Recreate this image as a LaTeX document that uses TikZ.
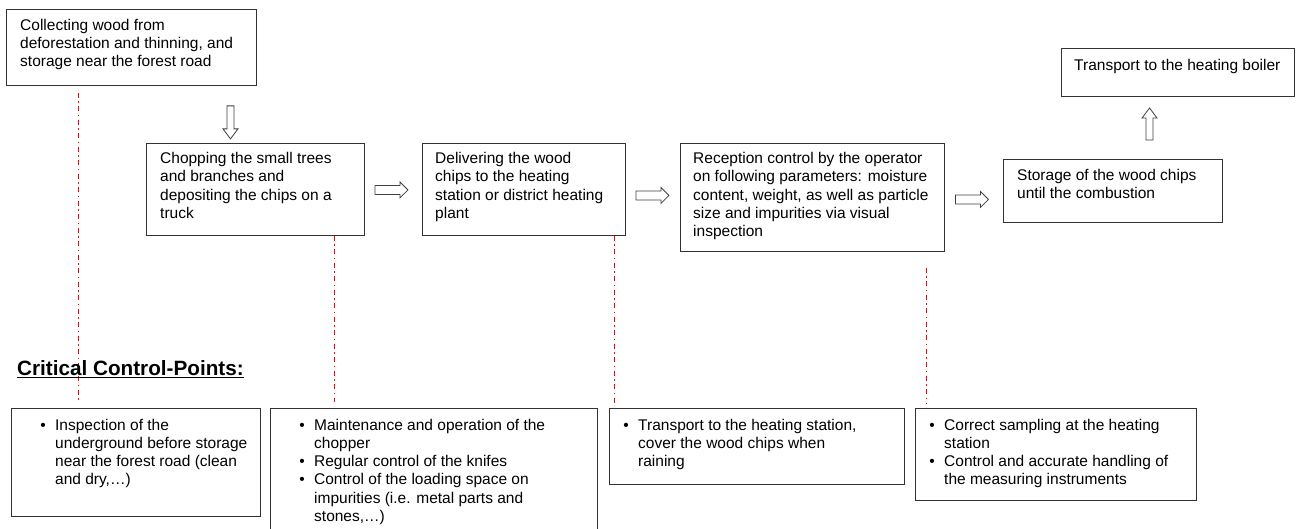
\documentclass[tikz,border=0pt]{standalone}
\usepackage{fontspec}
\setmainfont{Liberation Sans}
\usetikzlibrary{calc}
\definecolor{ccred}{RGB}{255,0,0}
\begin{document}
\begin{tikzpicture}[x=1pt,y=-1pt,
  box/.style={draw=black!80, line width=0.9pt, inner sep=0pt, anchor=north west},
  txt/.style={anchor=north west, inner sep=0pt, align=left, font=\fontsize{15.5}{18.2}\selectfont},
  blockarrow/.style={draw=black!75, line width=0.8pt, fill=white, line join=miter},
  ctrl/.style={color=ccred, line width=0.9pt, dash pattern=on 5pt off 3.5pt on 1.5pt off 3.5pt}]
\clip (0,0) rectangle (1296,529);
\fill[white] (0,0) rectangle (1296,529);
\newcommand{\bul}{\llap{\textbullet\hspace{9.5pt}}}
\newcommand{\st}{\rule{0pt}{12pt}}
% process boxes
\node[box, minimum width=250pt, minimum height=76pt] (A) at (6,9) {};
\node[box, minimum width=218pt, minimum height=92pt] (B) at (146,143) {};
\node[box, minimum width=203pt, minimum height=92pt] (C) at (422,143) {};
\node[box, minimum width=264pt, minimum height=108pt] (D) at (680,143) {};
\node[box, minimum width=219pt, minimum height=63pt] (E) at (1003,159) {};
\node[box, minimum width=233pt, minimum height=48pt] (F) at (1061,48) {};
% control boxes
\node[box, minimum width=249pt, minimum height=108pt] (G1) at (11,408) {};
\node[box, minimum width=327pt, minimum height=130pt] (G2) at (270,408) {};
\node[box, minimum width=295pt, minimum height=76pt] (G3) at (609,408) {};
\node[box, minimum width=281pt, minimum height=92pt] (G4) at (915,408) {};
% dash-dot control lines
\draw[ctrl] ([xshift=188pt]B.south west) -- ([xshift=64pt,yshift=6pt]G2.north west);
\draw[ctrl] ([xshift=72pt,yshift=-7pt]A.south west) -- ([xshift=67pt,yshift=6pt]G1.north west);
\draw[ctrl] ([xshift=192.5pt]C.south west) -- ([xshift=5.5pt,yshift=5pt]G3.north west);
\draw[ctrl] ([xshift=246pt,yshift=-16pt]D.south west) -- ([xshift=11pt,yshift=4pt]G4.north west);
% texts
\node[txt] (At) at ([xshift=14pt,yshift=-9pt]A.north west) {\st Collecting wood from\\deforestation and thinning, and\\storage near the forest road};
\node[txt] (Bt) at ([xshift=14pt,yshift=-8.5pt]B.north west) {\st Chopping the small trees\\and branches and\\depositing the chips on a\\truck};
\node[txt] (Ct) at ([xshift=13pt,yshift=-8.5pt]C.north west) {\st Delivering the wood\\chips to the heating\\station or district heating\\plant};
\node[txt] (Dt) at ([xshift=13pt,yshift=-8.5pt]D.north west) {\st Reception control by the operator\\on following parameters: moisture\\content, weight, as well as particle\\size and impurities via visual\\inspection};
\node[txt] (Et) at ([xshift=14pt,yshift=-9.5pt]E.north west) {\st Storage of the wood chips\\until the combustion};
\node[txt] (Ft) at ([xshift=13pt,yshift=-10pt]F.north west) {\st Transport to the heating boiler};
\node[txt] (G1t) at ([xshift=44pt,yshift=-10pt]G1.north west) {\st\bul Inspection of the\\underground before storage\\near the forest road (clean\\and dry,…)};
\node[txt] (G2t) at ([xshift=44pt,yshift=-10pt]G2.north west) {\st\bul Maintenance and operation of the\\chopper\\\bul Regular control of the knifes\\\bul Control of the loading space on\\impurities (i.e. metal parts and\\stones,…)};
\node[txt] (G3t) at ([xshift=29pt,yshift=-10pt]G3.north west) {\st\bul Transport to the heating station,\\cover the wood chips when\\raining};
\node[txt] (G4t) at ([xshift=29pt,yshift=-10pt]G4.north west) {\st\bul Correct sampling at the heating\\station\\\bul Control and accurate handling of\\the measuring instruments};
% title
\node[anchor=base west, inner sep=0pt, font=\fontsize{20.7}{24}\selectfont\bfseries] (cc) at (17,375) {Critical Control-Points:};
\draw[line width=1.6pt] ([yshift=-2.5pt]cc.base west) -- ([yshift=-2.5pt]cc.base east);
% block arrows
\coordinate (ab) at ($(A.south west)+(224.5,36.5)$);
\coordinate (bc) at ($(B.east)+(26.5,0.5)$);
\coordinate (cd) at ($(C.east)+(26.5,6)$);
\coordinate (de) at ($(D.east)+(27,2)$);
\coordinate (ef) at ($(E.north west)+(146.5,-35)$);
\draw[blockarrow] (ab) ++(-3.5,-16.5) -- ++(7,0) -- ++(0,23) -- ++(4,0) -- ++(-7.5,10) -- ++(-7.5,-10) -- ++(4,0) -- cycle;
\foreach \c in {bc,cd,de}{
  \draw[blockarrow] (\c) ++(-16.5,-4.5) -- ++(25,0) -- ++(0,-3.5) -- ++(8,8) -- ++(-8,8) -- ++(0,-3.5) -- ++(-25,0) -- cycle;
}
\draw[blockarrow] (ef) ++(-3.5,16) -- ++(7,0) -- ++(0,-22) -- ++(4,0) -- ++(-7.5,-10) -- ++(-7.5,10) -- ++(4,0) -- cycle;
\end{tikzpicture}
\end{document}
